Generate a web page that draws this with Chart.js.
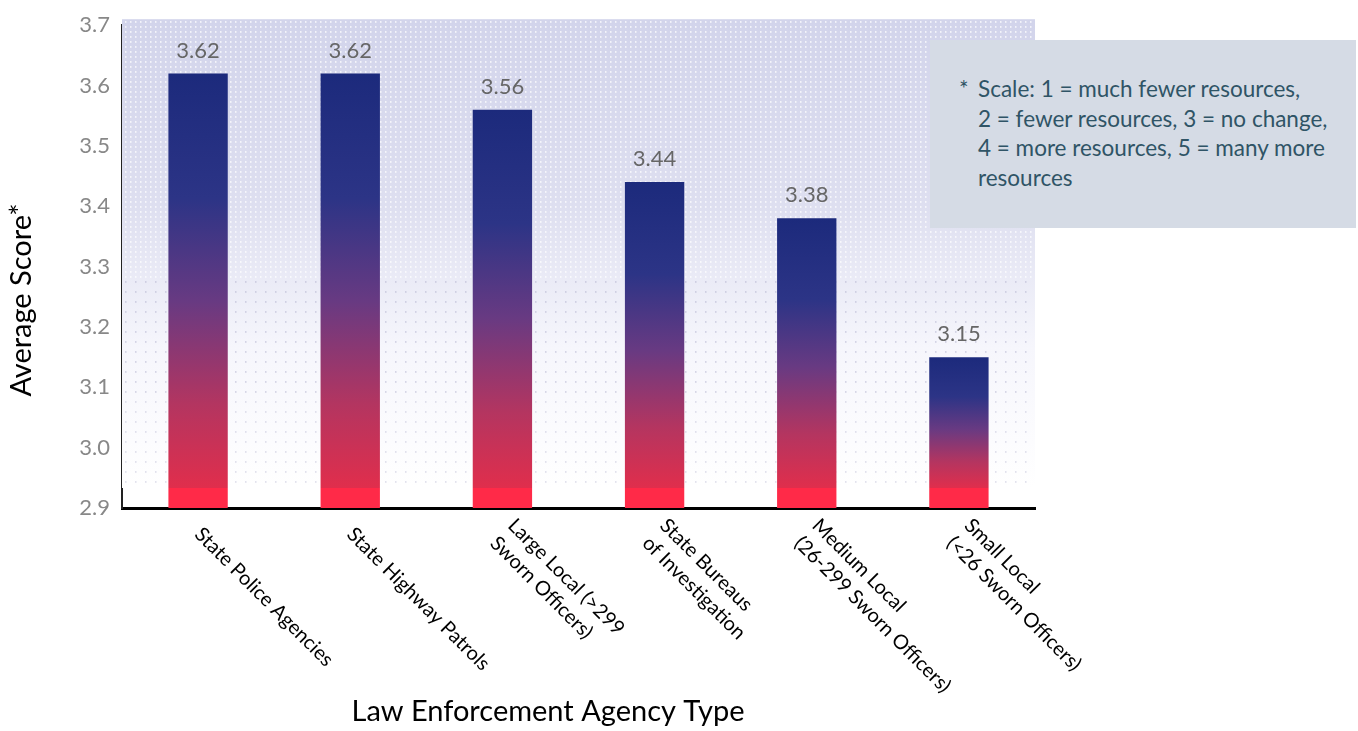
<!DOCTYPE html>
<html>
<head>
<meta charset="utf-8">
<title>Average Score by Law Enforcement Agency Type</title>
<script src="https://cdn.jsdelivr.net/npm/chart.js@4.4.1/dist/chart.umd.min.js"></script>
<style>
  html, body { margin: 0; padding: 0; background: #fff; }
  #wrap { position: relative; width: 1358px; height: 731px; }
  canvas { display: block; }
  .note {
    position: absolute; left: 930px; top: 40px; width: 426px; height: 188px;
    background: #d5dbe5; color: #2f5466; font: 22.5px Lato, sans-serif;
    box-sizing: border-box; padding: 34px 0 0 48px; line-height: 29.5px;
    white-space: nowrap;
  }
  .note .star { position: absolute; left: 29px; }
</style>
</head>
<body>
<div id="wrap">
  <canvas id="grafico" width="1358" height="731"></canvas>
  <div class="note">
    <div><span class="star">*</span>Scale: 1 = much fewer resources,</div>
    <div>2 = fewer resources, 3 = no change,</div>
    <div>4 = more resources, 5 = many more</div>
    <div>resources</div>
  </div>
</div>
<script>
// Dados
const categorias = [
  ['State Police Agencies'],
  ['State Highway Patrols'],
  ['Large Local (>299', 'Sworn Officers)'],
  ['State Bureaus', 'of Investigation'],
  ['Medium Local', '(26-299 Sworn Officers)'],
  ['Small Local', '(<26 Sworn Officers)']
];
const medias = [3.62, 3.62, 3.56, 3.44, 3.38, 3.15];
const eixoY = { min: 2.9, max: 3.7, passo: 0.1 };
const tituloX = 'Law Enforcement Agency Type';
const tituloY = 'Average Score*';

const FONTE = 'Lato, "DejaVu Sans", sans-serif';

// Gradiente de cada barra (azul no topo, vermelho na base)
function corBarra(ctx) {
  const chart = ctx.chart;
  if (!chart.chartArea) return '#1f2f7f';
  const y = chart.scales.y;
  const topo = y.getPixelForValue(ctx.raw);
  const base = y.getPixelForValue(eixoY.min);
  const faixa = base - 20;
  const g = chart.ctx.createLinearGradient(0, topo, 0, base);
  const s = Math.max(0.01, (faixa - topo) / (base - topo));
  g.addColorStop(0, '#1c2a7c');
  g.addColorStop(s * 0.3, '#2c3486');
  g.addColorStop(s * 0.55, '#683a82');
  g.addColorStop(s * 0.8, '#b43560');
  g.addColorStop(s * 0.999, '#e02e4c');
  g.addColorStop(s, '#ff2a48');
  g.addColorStop(1, '#ff2a48');
  return g;
}

// Fundo pontilhado da área do gráfico
const fundoPlugin = {
  id: 'fundo',
  beforeDatasetsDraw(chart) {
    const { ctx, chartArea: a } = chart;
    const topo = a.top - 6;
    const fim = a.bottom - 20;
    ctx.save();
    const g = ctx.createLinearGradient(0, topo, 0, fim);
    g.addColorStop(0, '#d2d4eb');
    g.addColorStop(0.4, '#dedff0');
    g.addColorStop(0.7, '#f6f6fc');
    g.addColorStop(1, '#ffffff');
    ctx.fillStyle = g;
    ctx.fillRect(a.left, topo, a.right - a.left, fim - topo);
    const h = fim - topo;
    for (let yy = topo + 2; yy < fim; yy += 5) {
      const t = (yy - topo) / h;
      if (t < 0.55) {
        ctx.fillStyle = 'rgba(255,255,255,0.9)';
        for (let xx = a.left + 3; xx < a.right; xx += 5) ctx.fillRect(xx, yy, 1.5, 1.5);
      } else if (Math.round((yy - topo) / 5) % 2 === 0) {
        ctx.fillStyle = t < 0.8 ? 'rgba(170,170,200,0.55)' : 'rgba(175,175,205,0.45)';
        for (let xx = a.left + 3; xx < a.right; xx += 10) ctx.fillRect(xx, yy, 1.5, 1.5);
      }
    }
    ctx.restore();
  },
  afterDraw(chart) {
    const { ctx, chartArea: a } = chart;
    const xs = chart.scales.x;
    const meta = chart.getDatasetMeta(0);
    ctx.save();
    // valores sobre as barras
    ctx.font = '22px ' + FONTE;
    ctx.fillStyle = '#666';
    ctx.textAlign = 'center';
    ctx.textBaseline = 'bottom';
    meta.data.forEach((bar, i) => {
      ctx.fillText(medias[i].toFixed(2), bar.x, bar.y - 12);
    });
    // rótulos das categorias, girados 45°
    ctx.font = '20px ' + FONTE;
    ctx.fillStyle = '#000';
    ctx.textAlign = 'left';
    ctx.textBaseline = 'middle';
    const lh = 25;
    categorias.forEach((linhas, i) => {
      const x = xs.getPixelForTick(i);
      ctx.save();
      ctx.translate(x, a.bottom + 23);
      ctx.rotate(Math.PI / 4);
      linhas.forEach((txt, j) => {
        ctx.fillText(txt, 0, (j - (linhas.length - 1) / 2) * lh);
      });
      ctx.restore();
    });
    // títulos dos eixos
    ctx.font = '29px ' + FONTE;
    ctx.textAlign = 'center';
    ctx.fillText(tituloX, 548, 712);
    ctx.save();
    ctx.translate(22, 300);
    ctx.rotate(-Math.PI / 2);
    ctx.fillText(tituloY, 0, 0);
    ctx.restore();
    ctx.restore();
  }
};

new Chart(document.getElementById('grafico'), {
  type: 'bar',
  data: {
    labels: categorias,
    datasets: [{
      data: medias,
      backgroundColor: corBarra,
      borderWidth: 0,
      barPercentage: 0.39,
      categoryPercentage: 1.0
    }]
  },
  options: {
    responsive: false,
    animation: false,
    events: [],
    layout: { padding: { top: 20, right: 323, left: 0, bottom: 0 } },
    plugins: { legend: { display: false }, tooltip: { enabled: false } },
    scales: {
      x: {
        grid: { display: false, drawTicks: false },
        border: { display: true, color: '#000', width: 3 },
        ticks: { display: false },
        afterFit(s) { s.height = 223; }
      },
      y: {
        min: eixoY.min,
        max: eixoY.max,
        grid: { display: false, drawTicks: false },
        border: { display: true, color: '#222', width: 2 },
        ticks: {
          stepSize: eixoY.passo,
          padding: 12,
          color: '#888',
          font: { family: FONTE, size: 22 },
          callback: v => v.toFixed(1)
        },
        afterFit(s) { s.width = 122; }
      }
    }
  },
  plugins: [fundoPlugin]
});
</script>
</body>
</html>
